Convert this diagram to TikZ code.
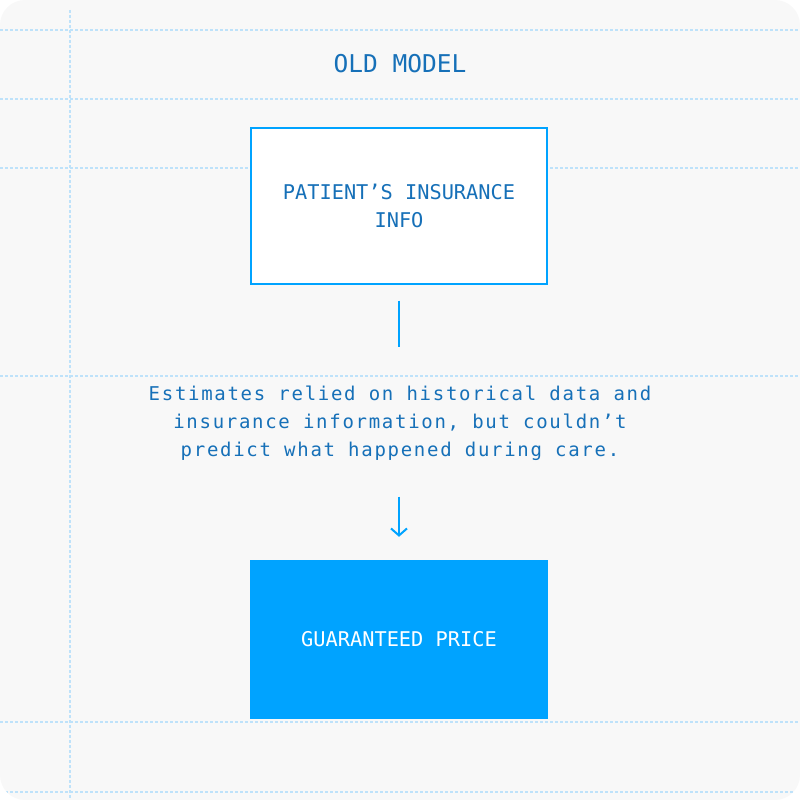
\documentclass[tikz,border=0pt]{standalone}
\usepackage{fontspec}
\setmonofont{DejaVu Sans Mono}
\newfontfamily\bodyfont[LetterSpace=9]{DejaVu Sans Mono}
\usetikzlibrary{arrows.meta}
\definecolor{bgc}{HTML}{F8F8F8}
\definecolor{gridc}{HTML}{BEE2FA}
\definecolor{accent}{HTML}{00A3FF}
\definecolor{txtc}{HTML}{1670B8}
\tikzset{
  gridline/.style={draw=gridc, line width=1.2pt, dash pattern=on 3pt off 2pt},
  titletext/.style={text=txtc, font=\ttfamily\fontsize{24.5}{28}\selectfont, inner sep=0pt},
  outlinebox/.style={draw=accent, line width=2pt, fill=white, minimum width=296pt, minimum height=156pt, inner sep=0pt, align=center, text=txtc, font=\ttfamily\fontsize{20.3}{28}\selectfont},
  filledbox/.style={fill=accent, minimum width=298pt, minimum height=159pt, inner sep=0pt, align=center, text=white, font=\ttfamily\fontsize{20.3}{28}\selectfont},
  bodytext/.style={text=txtc, align=center, inner sep=0pt, font=\bodyfont\fontsize{19}{28}\selectfont},
  conn/.style={draw=accent, line width=2pt},
}
\begin{document}
\begin{tikzpicture}[x=1pt,y=-1pt]
\useasboundingbox (0,0) rectangle (800,800);
\fill[bgc, rounded corners=25pt] (0,0) rectangle (800,800);
\begin{scope}
\clip[rounded corners=25pt] (0,0) rectangle (800,800);
\foreach \yy in {30,99,168,376,722,792}{
  \draw[gridline] (0,\yy) -- (800,\yy);
}
\draw[gridline] (70,10) -- (70,800);
\end{scope}

\node[titletext, anchor=base] (title) at (400,73) {OLD MODEL};
\node[outlinebox] (box1) at (399,205.5) {PATIENT’S INSURANCE\\INFO};
\node[bodytext] (desc) at (400,423) {Estimates relied on historical data and\\insurance information, but couldn’t\\predict what happened during care.};
\node[filledbox] (box2) at (399,639.5) {GUARANTEED PRICE};

\draw[conn, shorten <=16pt, shorten >=38pt] (box1.south) -- (desc.north -| box1.south);
\draw[conn, -{Straight Barb[length=7pt,width=16pt,line width=2pt]}, shorten <=36pt, shorten >=23pt] (desc.south -| box2.north) -- (box2.north);
\end{tikzpicture}
\end{document}
